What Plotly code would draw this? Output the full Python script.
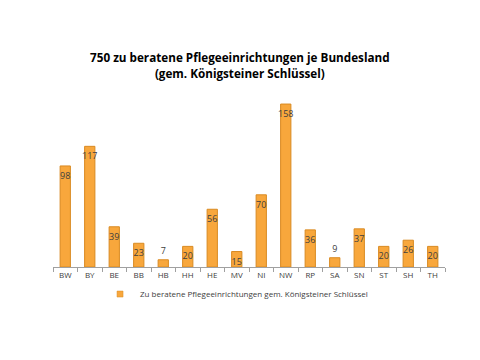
import plotly.graph_objects as go

categories = ["BW", "BY", "BE", "BB", "HB", "HH", "HE", "MV", "NI", "NW", "RP", "SA", "SN", "ST", "SH", "TH"]
values = [98, 117, 39, 23, 7, 20, 56, 15, 70, 158, 36, 9, 37, 20, 26, 20]
series_name = "Zu beratene Pflegeeinrichtungen gem. Königsteiner Schlüssel"
title_text = "750 zu beratene Pflegeeinrichtungen je Bundesland<br>(gem. Königsteiner Schlüssel)"

bar_color = "#F8A73C"
text_pos = ["inside" if v >= 12 else "outside" for v in values]

fig = go.Figure()
fig.add_trace(go.Bar(
    x=categories, y=values, name=series_name,
    marker=dict(color=bar_color, line=dict(color="#D98A22", width=1)),
    text=values, textposition=text_pos, insidetextanchor="end", textangle=0,
    textfont=dict(size=9, color="#404040", family="Open Sans"),
    constraintext="none", cliponaxis=False,
    showlegend=False,
))
fig.add_trace(go.Scatter(
    x=[None], y=[None], mode="markers", name=series_name,
    marker=dict(symbol="square", size=6, color=bar_color, line=dict(color="#D98A22", width=0.5)),
    showlegend=True,
))

fig.update_layout(
    width=480, height=360,
    margin=dict(l=45, r=43, t=94, b=101, autoexpand=False),
    paper_bgcolor="white", plot_bgcolor="white",
    bargap=0.58,
    title=dict(text=title_text, x=0.483, xanchor="center", y=0.849, yanchor="middle",
               font=dict(size=11.7, color="black", family="Open Sans", weight="bold")),
    font=dict(family="Open Sans", color="#404040"),
    xaxis=dict(showline=True, linecolor="#A0A0A0", linewidth=1, ticks="outside",
               tickson="boundaries", ticklen=4, tickcolor="#A0A0A0",
               tickfont=dict(size=8, color="#404040"), showgrid=False),
    yaxis=dict(range=[0, 160], visible=False, showgrid=False),
    legend=dict(orientation="h", x=0.12, xanchor="left", y=-0.164, yanchor="middle",
                font=dict(size=8, color="#404040"), itemwidth=30, tracegroupgap=0),
)

fig.write_html("out.html")
